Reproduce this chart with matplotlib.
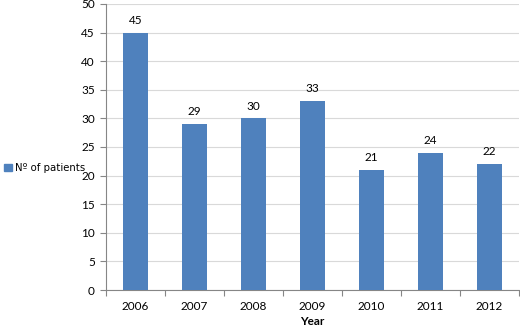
import matplotlib
matplotlib.use("Agg")
import matplotlib.pyplot as plt
from matplotlib.patches import Patch
import numpy as np

years = ["2006", "2007", "2008", "2009", "2010", "2011", "2012"]
patients = [45, 29, 30, 33, 21, 24, 22]
series_name = "Nº of patients"

plt.rcParams['font.family'] = ['Lato', 'DejaVu Sans']
plt.rcParams['font.size'] = 8.5

fig = plt.figure(figsize=(5.2, 3.29), dpi=100)
ax = fig.add_axes([0.204, 0.1185, 0.794, 0.8695])
x = np.arange(len(years))
bars = ax.bar(x, patients, width=0.41, color="#4F81BD", zorder=3)
for xi, v in zip(x, patients):
    ax.text(xi, v + 1.2, str(v), ha="center", va="bottom", fontsize=8.5, color="#000000")

ax.set_ylim(0, 50)
ax.set_xlim(-0.5, len(years) - 0.5)
ax.set_yticks(np.arange(0, 51, 5))
ax.yaxis.grid(True, color="#D9D9D9", linewidth=0.8, zorder=0)
ax.set_xticks(x)
ax.set_xticklabels(years)
ax.set_xticks(np.arange(-0.5, len(years), 1), minor=True)
ax.tick_params(axis="x", which="major", length=0, pad=8)
ax.tick_params(axis="x", which="minor", length=4, color="#868686", width=0.8)
ax.tick_params(axis="y", length=4, color="#868686", width=0.8, pad=4)
for s in ["top", "right"]:
    ax.spines[s].set_visible(False)
for s in ["left", "bottom"]:
    ax.spines[s].set_color("#868686")
    ax.spines[s].set_linewidth(0.8)
ax.set_xlabel("Year", fontweight="bold", fontsize=8.5, labelpad=3)

fig.legend(handles=[Patch(color="#4F81BD", label=series_name)],
           loc="center left", bbox_to_anchor=(-0.005, 0.489), frameon=False,
           handlelength=0.7, handleheight=0.7, handletextpad=0.3, borderpad=0.2,
           fontsize=7.8, prop={'family': ['DejaVu Sans'], 'size': 7.3})

fig.savefig("out.png", dpi=100)
